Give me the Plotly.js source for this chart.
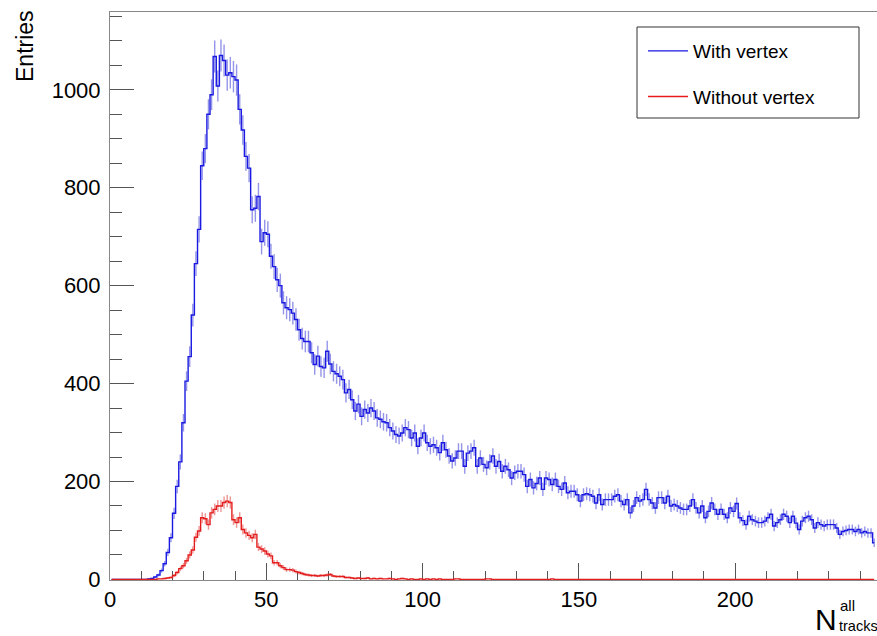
<!DOCTYPE html>
<html>
<head>
<meta charset="utf-8">
<script src="https://cdn.plot.ly/plotly-3.0.1.min.js"></script>
<style>html,body{margin:0;padding:0;background:#fff;}#chart{width:877px;height:636px;}</style>
</head>
<body>
<div id="chart"></div>
<script>
// Histogram: N_tracks^all, bin width 1, starting at 0
const binStart = 0;
const binWidth = 1;

const withVertex = [
  0,0,0,0,0,0,0,0,0,0,
  0,0,1,2,5,9,18,32,55,85,
  135,190,240,320,405,455,540,645,715,845,
  880,950,990,1068,1008,1070,1060,1030,1035,1027,
  1020,960,918,864,840,755,758,782,690,708,
  705,660,639,612,600,565,555,551,544,531,
  510,492,486,486,463,439,456,435,432,466,
  440,425,420,415,408,381,388,367,344,358,
  333,347,340,350,344,330,327,322,320,310,
  303,296,293,299,310,306,289,299,272,289,
  299,279,272,275,269,259,279,265,252,242,
  248,262,262,231,258,262,269,231,248,235,
  228,240,252,231,241,221,231,224,207,218,
  221,221,214,190,204,187,196,207,184,207,
  204,194,204,190,184,197,177,180,180,173,
  160,173,175,173,170,156,173,153,163,163,
  163,170,173,160,153,163,136,150,167,160,
  163,184,163,156,146,167,167,156,170,150,
  153,150,146,143,143,150,163,146,136,150,
  126,139,156,143,133,143,133,126,146,139,
  155,126,120,112,129,122,119,116,116,119,
  126,133,109,116,122,133,129,116,129,115,
  102,119,126,129,122,105,116,112,109,112,
  112,112,105,92,98,100,102,102,98,102,
  95,98,95,95,75
];

const withoutVertex = [
  0,0,0,0,0,0,0,0,0,0,
  0,0,0,0,0,1,1,2,3,4,
  8,14,22,28,38,50,60,86,99,126,
  124,112,136,143,150,150,157,160,157,122,
  116,126,102,95,90,85,92,66,62,58,
  52,48,34,34,28,24,20,20,19,16,
  14,12,10,9,8,8,7,8,8,9,
  10,7,6,6,6,4,4,3,2,3,
  2,2,3,1,2,1,2,1,1,2,
  1,0,1,2,1,0,1,0,0,1,
  0,1,0,1,0,1,0,0,0,0,
  1,1,0,0,0,0,0,0,0,0,
  1,1,0,0,0,0,0,0,0,0,
  0,0,0,0,0,0,0,0,0,0,
  0,1,0,0,0,0,0,0,0,0,
  0,0,0,0,0,0,0,0,0,0,
  0,0,0,0,0,0,0,0,0,0,
  0,0,0,0,0,0,0,0,0,0,
  0,0,0,0,0,0,0,0,0,0,
  0,0,0,0,0,0,0,0,0,0,
  0,0,0,0,0,0,0,0,0,0,
  0,0,0,0,0,0,0,0,0,0,
  0,0,0,0,0,0,0,0,0,0,
  0,0,0,0,0,0,0,0,0,0,
  0,0,0,0,0
];

const seriesNames = ["With vertex", "Without vertex"];
const xTitleMain = "N";
const xTitleSup = "all";
const xTitleSub = "tracks";
const yTitle = "Entries";

const centers = withVertex.map((_, i) => binStart + (i + 0.5) * binWidth);

function histTrace(values, name, lineColor, errColor, group) {
  return {
    type: 'scatter', mode: 'lines', name: name, legendgroup: group,
    x: centers, y: values,
    line: {shape: 'hvh', color: lineColor, width: 1.4},
    error_y: {type: 'sqrt', visible: true, width: 0, thickness: 1.4, color: errColor},
    hoverinfo: 'skip'
  };
}

const data = [
  histTrace(withVertex, seriesNames[0], 'rgb(25,25,225)', 'rgba(60,60,215,0.55)', 'g1'),
  histTrace(withoutVertex, seriesNames[1], 'rgb(228,28,28)', 'rgba(225,60,60,0.55)', 'g2')
];

const W = 877, H = 636, ML = 110, MR = 0, MT = 12, MB = 56;
const PW = W - ML - MR, PH = H - MT - MB;
const px2x = p => (p - ML) / PW;
const py2y = p => (H - MB - p) / PH;

const tickCol = '#555';
const layout = {
  width: W, height: H,
  margin: {l: ML, r: MR, t: MT, b: MB, pad: 0},
  paper_bgcolor: '#fff', plot_bgcolor: '#fff',
  font: {family: 'Liberation Sans, Arial, Helvetica, sans-serif', color: '#000'},
  showlegend: true,
  hovermode: false,
  xaxis: {
    range: [0, 245.4], showgrid: false, zeroline: false,
    showline: true, linecolor: '#888', linewidth: 1, mirror: true,
    ticks: 'inside', ticklen: 17, tickwidth: 1, tickcolor: tickCol,
    tick0: 0, dtick: 50, tickfont: {size: 22, color: '#000'},
    minor: {dtick: 10, ticks: 'inside', ticklen: 9, tickwidth: 1, tickcolor: tickCol, showgrid: false},
    layer: 'below traces'
  },
  yaxis: {
    range: [-1.2, 1159], showgrid: false, zeroline: false,
    showline: true, linecolor: '#888', linewidth: 1,
    ticks: 'inside', ticklen: 24, tickwidth: 1, tickcolor: tickCol,
    tick0: 0, dtick: 200, tickfont: {size: 22, color: '#000'},
    ticklabelstandoff: 4,
    minor: {dtick: 50, ticks: 'inside', ticklen: 12, tickwidth: 1, tickcolor: tickCol, showgrid: false}
  },
  legend: {
    x: px2x(643), xanchor: 'left', y: py2y(32), yanchor: 'top',
    bgcolor: 'rgba(0,0,0,0)', borderwidth: 0,
    font: {size: 19, color: '#000'},
    tracegroupgap: 18, itemwidth: 40, traceorder: 'grouped'
  },
  shapes: [
    {type: 'rect', xref: 'paper', yref: 'paper',
     x0: px2x(637), x1: px2x(859), y0: py2y(118), y1: py2y(27),
     line: {color: '#333', width: 1}, fillcolor: 'rgba(0,0,0,0)', layer: 'above'}
  ],
  annotations: [
    {text: yTitle, xref: 'paper', yref: 'paper', x: px2x(25), y: py2y(8),
     xanchor: 'center', yanchor: 'top', textangle: -90, showarrow: false,
     font: {size: 23, color: '#000'}},
    {text: xTitleMain, xref: 'paper', yref: 'paper', x: px2x(838), y: py2y(619),
     xanchor: 'right', yanchor: 'middle', showarrow: false, borderpad: 0,
     font: {size: 30, color: '#000'}},
    {text: xTitleSup, xref: 'paper', yref: 'paper', x: px2x(839), y: py2y(605),
     xanchor: 'left', yanchor: 'middle', showarrow: false, borderpad: 0,
     font: {size: 15, color: '#000'}},
    {text: xTitleSub, xref: 'paper', yref: 'paper', x: px2x(838), y: py2y(626),
     xanchor: 'left', yanchor: 'middle', showarrow: false, borderpad: 0,
     font: {size: 14.5, color: '#000'}}
  ]
};

Plotly.newPlot('chart', data, layout, {staticPlot: true, displayModeBar: false});
</script>
</body>
</html>
